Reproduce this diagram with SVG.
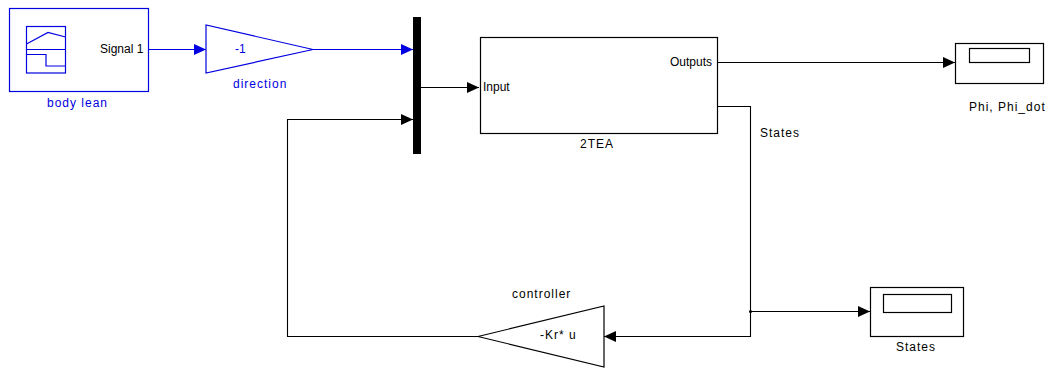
<svg xmlns="http://www.w3.org/2000/svg" width="1056" height="369" viewBox="0 0 1056 369">
<style>
.blk{fill:#fff;stroke:#000;stroke-width:1.2}
.bblk{fill:#fff;stroke:#0000e0;stroke-width:1.2}
.ln{fill:none;stroke:#000;stroke-width:1.1}
.bln{fill:none;stroke:#0000e0;stroke-width:1.1}
.t{font-family:"Liberation Sans",Arial,sans-serif;font-size:12px;fill:#000}
.lbl{font-family:"Liberation Sans",Arial,sans-serif;font-size:12px;fill:#000;letter-spacing:1px}
.blbl{font-family:"Liberation Sans",Arial,sans-serif;font-size:12px;fill:#0000e0;letter-spacing:1px}
</style>
<defs>
<marker id="ah" markerUnits="userSpaceOnUse" markerWidth="12" markerHeight="11" refX="12" refY="5.5" orient="auto"><path d="M0,0 L12,5.5 L0,11 z" fill="#000"/></marker>
<marker id="bah" markerUnits="userSpaceOnUse" markerWidth="12" markerHeight="11" refX="12" refY="5.5" orient="auto"><path d="M0,0 L12,5.5 L0,11 z" fill="#0000e0"/></marker>
</defs>
<rect width="1056" height="369" fill="#fff"/>
<g id="connectors">
<path class="bln" d="M149,49.5 H206" marker-end="url(#bah)"/>
<path class="bln" d="M313,49.5 H413" marker-end="url(#bah)"/>
<path class="ln" d="M421,87.5 H479" marker-end="url(#ah)"/>
<path class="ln" d="M718,62.5 H955" marker-end="url(#ah)"/>
<path class="ln" d="M718,106.5 H750.5 V336.5 H604" marker-end="url(#ah)"/>
<path class="ln" d="M750.5,311.5 H870" marker-end="url(#ah)"/>
<path class="ln" d="M478,336.5 H287.5 V119.5 H413" marker-end="url(#ah)"/>
<circle cx="750.5" cy="311.5" r="1.5" fill="#000"/>
</g>
<g id="body_lean">
<rect class="bblk" x="9.5" y="8.5" width="139" height="83"/>
<g fill="none" stroke="#0000e0" stroke-width="1.2">
<rect x="26.5" y="26.5" width="39" height="46.5"/>
<path d="M26.5,44 L48,32.5 L65.5,37"/>
<path d="M26.5,49.5 H65.5"/>
<path d="M26.5,54.5 H46 V66 H65.5"/>
</g>
<text class="t" x="100" y="53">Signal 1</text>
<text class="blbl" x="47" y="107">body lean</text>
</g>
<g id="direction">
<polygon class="bblk" points="206,25 206,73 313,49.5"/>
<text class="t" x="235" y="53" fill="#0000e0" style="fill:#0000e0">-1</text>
<text class="blbl" x="233" y="88">direction</text>
</g>
<g id="mux">
<rect x="413" y="17" width="8" height="137" fill="#000"/>
</g>
<g id="tea">
<rect class="blk" x="480.5" y="37.5" width="237" height="96"/>
<text class="t" x="483" y="91">Input</text>
<text class="t" x="712" y="66" text-anchor="end">Outputs</text>
<text class="lbl" x="580" y="148">2TEA</text>
<text class="lbl" x="760" y="137">States</text>
</g>
<g id="scope_phi">
<rect class="blk" x="955.5" y="43.5" width="88" height="40"/>
<rect class="blk" x="969.5" y="48.5" width="60" height="14"/>
<text class="lbl" x="969" y="111">Phi, Phi_dot</text>
</g>
<g id="controller">
<polygon class="blk" points="604,306 604,367 478,336.5"/>
<text class="lbl" x="540" y="339">-Kr* u</text>
<text class="lbl" x="512" y="298">controller</text>
</g>
<g id="scope_states">
<rect class="blk" x="870.5" y="287.5" width="93" height="49"/>
<rect class="blk" x="883.5" y="294.5" width="68" height="18"/>
<text class="lbl" x="896" y="351">States</text>
</g>
</svg>
